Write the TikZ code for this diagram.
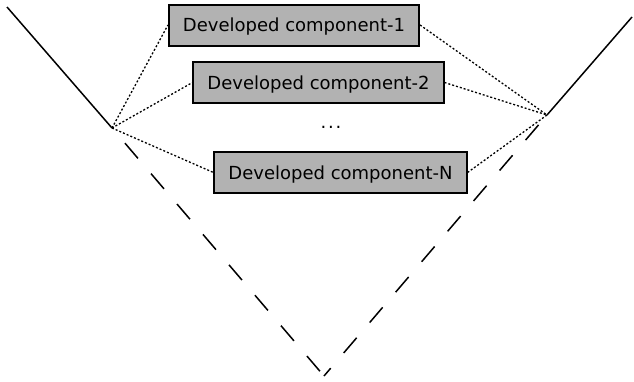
\documentclass[tikz,border=0pt]{standalone}
\usepackage{fontspec}
\setmainfont{DejaVu Sans}
\begin{document}
\begin{tikzpicture}[x=1pt,y=-1pt,
  compbox/.style={draw=black,line width=2pt,fill=black!30,font=\fontsize{18}{20}\selectfont,
    inner xsep=14pt,text height=13pt,text depth=0pt,minimum height=41pt},
  dotline/.style={line width=1.3pt,dash pattern=on 2pt off 2pt},
  solidline/.style={line width=1.5pt},
  dashline/.style={line width=1.5pt,dash pattern=on 20pt off 20pt}]
\useasboundingbox (0,0) rectangle (634,381);
\coordinate (TL) at (7,7);
\coordinate (L) at (112,128);
\coordinate (TR) at (632,17);
\coordinate (R) at (547,115);
\coordinate (V) at (324,376);
\node[compbox] (c1) at (294,25) {Developed component-1};
\node[compbox] (c2) at (318.5,82.5) {Developed component-2};
\node[compbox] (cN) at (340.5,172.5) {Developed component-N};
\node[font=\fontsize{18}{20}\selectfont,anchor=base,inner sep=0pt] (dots) at (331,128.5) {.\kern1.8pt.\kern1.8pt.};
\draw[solidline] (TL) -- (L);
\draw[solidline] (R) -- (TR);
\draw[dashline,dash phase=20pt] (L) -- (V);
\draw[dashline,dash phase=27pt] (R) -- (V);
\draw[dotline] (L) -- (c1.west);
\draw[dotline] (L) -- (c2.west);
\draw[dotline] (L) -- (cN.west);
\draw[dotline] (c1.east) -- (R);
\draw[dotline] (c2.east) -- (R);
\draw[dotline] (cN.east) -- (R);
\end{tikzpicture}
\end{document}
